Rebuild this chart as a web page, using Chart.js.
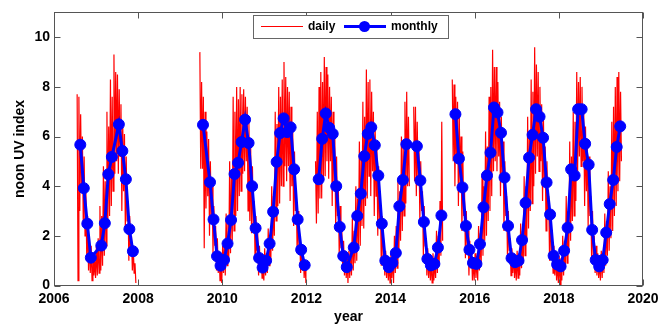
<!DOCTYPE html>
<html>
<head>
<meta charset="utf-8">
<script src="https://cdn.jsdelivr.net/npm/chart.js@4"></script>
<style>
  html, body { margin: 0; padding: 0; background: #fff; }
  #uv { display: block; }
</style>
</head>
<body>
<canvas id="uv" width="670" height="327"></canvas>
<script>
// years that have data (2008 has none)
const years = [2006, 2007, 2009, 2010, 2011, 2012, 2013, 2014, 2015, 2016, 2017, 2018, 2019];

// daily noon UV: 4 readings per month (Jan..Dec), null = no data
const d2006 = [null,null,null,null, null,null,null,null, null,null,null,null, null,null,null,null, null,null,null,null, null,null,null,null,
  null,null,7.7,0.2, 7.6,3.0,6.9,3.9, 6.0,2.4,5.2,2.0, 3.8,1.0,2.8,0.6, 1.9,0.5,1.6,0.2, 1.3,0.4,1.0,0.3];
const d2007 = [1.6,0.4,1.9,0.5, 3.2,0.6,2.8,0.8, 4.8,1.2,4.2,1.6, 7.0,2.4,6.4,2.8, 8.3,3.2,7.6,3.8, 9.3,4.5,8.6,5.0,
  8.5,4.5,7.9,5.2, 7.3,3.0,6.6,3.8, 6.1,2.2,5.2,2.6, 3.4,1.0,2.8,1.2, 2.0,0.6,1.6,0.5, 0.9,0.1,null,null];
const d2009 = [null,null,null,null, null,null,null,null, null,null,null,null, null,null,null,null, null,null,null,null, null,null,9.4,4.7,
  8.2,4.7,7.6,1.5, 7.0,3.1,6.2,3.6, 5.9,2.0,5.0,2.6, 4.0,1.3,3.2,1.6, 2.4,0.6,1.9,0.5, 1.3,0.2,1.1,0.1];
const d2010 = [1.6,0.5,1.8,0.4, 2.9,0.8,2.5,1.0, 5.0,1.3,4.4,1.8, 7.6,2.2,7.0,2.8, 8.0,3.0,7.5,3.6, 8.0,3.8,7.7,4.5,
  7.9,4.6,7.6,5.0, 7.2,3.0,6.6,2.6, 5.6,2.1,4.8,2.5, 3.4,1.0,2.8,1.4, 2.1,0.4,1.6,0.6, 1.2,0.3,1.0,0.2];
const d2011 = [1.5,0.4,1.3,0.5, 2.3,0.8,2.0,1.0, 4.0,1.4,3.6,2.0, 7.0,2.6,6.5,3.2, 8.0,3.3,7.6,4.0, 8.3,4.0,9.0,4.8,
  8.4,4.2,8.0,4.8, 7.8,3.4,7.2,4.0, 6.2,2.4,5.4,3.0, 3.8,1.3,3.0,1.6, 2.0,0.5,1.6,0.6, 1.4,0.3,1.0,0.1];
const d2012 = [null,null,null,null, null,null,null,null, null,null,5.0,2.5, 7.0,2.9,8.0,3.5, 8.6,3.5,8.2,4.2, 9.2,4.4,8.8,5.0,
  8.5,4.3,8.0,5.0, 7.6,3.2,7.0,4.0, 6.0,2.2,5.2,2.8, 4.0,1.2,3.2,1.5, 2.2,0.6,1.8,0.4, 1.4,0.3,1.1,0.1];
const d2013 = [1.4,0.3,1.6,0.4, 2.7,0.6,2.2,0.9, 4.0,1.0,3.5,1.6, 5.8,1.6,5.2,2.4, 7.4,2.3,6.8,3.2, 8.7,3.5,8.2,4.4,
  8.3,3.6,7.8,4.6, 7.0,2.8,6.4,3.6, 5.6,2.0,4.8,2.6, 3.4,0.8,2.8,1.2, 1.8,0.4,1.4,0.3, 1.2,0.2,1.0,0.1];
const d2014 = [1.3,0.3,1.2,0.1, 2.0,0.5,2.4,0.7, 4.2,1.2,3.8,1.8, 6.0,2.2,5.6,2.8, 7.4,3.3,7.8,4.0, 6.8,4.0,null,null,
  null,null,7.2,4.2, 7.2,3.6,6.6,4.2, 5.6,2.6,5.0,3.0, 3.8,1.2,3.2,1.6, 1.9,0.4,1.5,0.3, 1.2,0.2,1.0,0.1];
const d2015 = [1.3,0.2,1.1,0.3, 2.2,0.5,2.0,0.8, 3.4,1.2,6.6,1.8, null,null,null,null, null,null,null,null, null,null,8.3,5.0,
  8.1,4.0,7.6,5.0, 7.4,3.2,6.8,4.0, 6.0,2.2,5.4,2.8, 3.8,1.1,3.0,1.6, 2.2,0.4,1.8,0.7, 1.4,0.2,1.1,0.2];
const d2016 = [1.3,0.3,1.2,0.2, 2.4,0.6,2.1,0.9, 4.5,1.2,4.0,1.8, 6.2,2.0,5.6,2.6, 7.6,3.0,8.0,3.6, 9.5,4.6,8.8,5.0,
  8.8,4.6,8.2,5.2, 7.4,3.6,6.8,4.2, 5.8,2.2,5.0,2.8, 3.6,1.0,3.0,1.4, 1.9,0.4,1.5,0.5, 1.3,0.3,1.1,0.2];
const d2017 = [1.4,0.3,1.3,0.4, 2.5,0.7,2.2,0.9, 4.4,1.2,4.0,1.8, 6.8,2.3,6.2,3.0, 8.3,3.3,7.8,4.0, 9.6,4.5,8.9,5.2,
  8.6,4.6,8.0,5.0, 7.3,3.4,6.8,4.0, 5.6,2.2,5.0,2.8, 3.6,1.0,3.0,1.4, 2.0,0.5,1.6,0.4, 1.3,0.2,1.0,0.1];
const d2018 = [1.2,0.0,1.1,0.2, 2.0,0.4,1.8,0.7, 3.6,0.9,3.0,1.4, 5.8,1.8,5.2,2.6, 7.0,2.8,6.6,3.4, 8.6,4.6,8.2,5.2,
  8.4,4.8,8.0,5.0, 7.0,3.2,6.4,3.8, 5.8,2.4,5.2,2.8, 3.6,1.0,3.0,1.2, 2.0,0.5,1.6,0.4, 1.3,0.3,1.0,0.2];
const d2019 = [1.4,0.3,1.3,0.5, 2.9,0.8,2.6,1.2, 4.6,1.4,4.0,1.9, 6.6,2.2,7.2,2.8, 8.0,3.2,8.4,3.8, 8.6,4.2,7.8,5.0,
  null,null,null,null, null,null,null,null, null,null,null,null, null,null,null,null, null,null,null,null, null,null,null,null];
const dailyUV = [d2006, d2007, d2009, d2010, d2011, d2012, d2013, d2014, d2015, d2016, d2017, d2018, d2019];

// monthly means, Jan..Dec, null = month missing
const m2006 = [null, null, null, null, null, null, null, 5.67, 3.92, 2.49, 1.12, null];
const m2007 = [null, 1.61, 2.51, 4.48, 5.18, null, 6.49, 5.42, 4.28, 2.27, 1.38, null];
const m2009 = [null, null, null, null, null, null, 6.47, null, 4.16, 2.66, 1.18, 0.80];
const m2010 = [1.03, 1.69, 2.64, 4.49, 4.94, 5.78, 6.68, 5.74, 4.00, 2.31, 1.11, 0.72];
const m2011 = [1.00, 1.69, 2.97, 4.98, 6.14, 6.73, 6.18, 6.37, 4.68, 2.66, 1.44, 0.82];
const m2012 = [null, null, null, 4.28, 5.91, 6.93, 6.35, 6.11, 4.00, 2.36, 1.19, 0.74];
const m2013 = [null, 1.53, 2.80, 3.70, 5.21, 6.11, 6.37, 5.65, 4.43, 2.49, 1.00, 0.74];
const m2014 = [0.91, 1.31, 3.19, 4.25, 5.69, null, null, 5.61, 4.23, 2.56, 1.07, 0.81];
const m2015 = [0.87, 1.53, 2.82, null, null, null, 6.90, 5.11, 3.95, 2.40, 1.44, 0.91];
const m2016 = [0.87, 1.67, 3.15, 4.43, 5.35, 7.17, 6.97, 6.15, 4.35, 2.40, 1.10, 0.94];
const m2017 = [1.00, 1.83, 3.33, 5.15, 6.07, 7.10, 6.80, 5.95, 4.15, 2.86, 1.20, 0.85];
const m2018 = [0.77, 1.40, 2.33, 4.68, 4.43, 7.10, 7.10, 5.71, 4.87, 2.24, 1.03, 0.77];
const m2019 = [1.03, 2.13, 3.28, 4.25, 5.58, 6.41, null, null, null, null, null, null];
const monthlyUV = [m2006, m2007, m2009, m2010, m2011, m2012, m2013, m2014, m2015, m2016, m2017, m2018, m2019];

const xTicks = [2006, 2008, 2010, 2012, 2014, 2016, 2018, 2020];
const yTicks = [0, 2, 4, 6, 8, 10];

const FONT = '"Liberation Sans", Arial, Helvetica, sans-serif';

// spread the 4 readings over the month
const dayFrac = [0.1, 0.35, 0.6, 0.85];
const daily = [];
years.forEach((yr, k) => {
  dailyUV[k].forEach((v, i) => {
    daily.push({ x: yr + (Math.floor(i / 4) + dayFrac[i % 4]) / 12, y: v });
  });
});

const monthly = [];
years.forEach((yr, k) => {
  monthlyUV[k].forEach((v, m) => {
    if (v !== null) monthly.push({ x: yr + (m + 0.5) / 12, y: v });
  });
});

// matlab style box with ticks pointing inwards
const framePlugin = {
  id: "frame",
  afterDatasetsDraw(chart) {
    const { ctx, chartArea: a, scales: { x, y } } = chart;
    const L = Math.round(a.left) + 0.5, R = Math.round(a.right) - 0.5;
    const T = Math.round(a.top) + 0.5, B = Math.round(a.bottom) - 0.5;
    ctx.save();
    ctx.strokeStyle = "#555";
    ctx.lineWidth = 1;
    ctx.strokeRect(L, T, R - L, B - T);
    ctx.beginPath();
    xTicks.forEach((v) => {
      const px = Math.round(x.getPixelForValue(v)) + 0.5;
      ctx.moveTo(px, B); ctx.lineTo(px, B - 6);
      ctx.moveTo(px, T); ctx.lineTo(px, T + 6);
    });
    yTicks.forEach((v) => {
      const py = Math.round(y.getPixelForValue(v)) + 0.5;
      ctx.moveTo(L, py); ctx.lineTo(L + 6, py);
      ctx.moveTo(R, py); ctx.lineTo(R - 6, py);
    });
    ctx.stroke();
    ctx.restore();
  },
};

// legend box inside the plot, top centre
const legendPlugin = {
  id: "boxLegend",
  afterDraw(chart) {
    const { ctx } = chart;
    ctx.save();
    ctx.fillStyle = "#fff";
    ctx.fillRect(253, 15, 195, 23);
    ctx.strokeStyle = "#666";
    ctx.lineWidth = 1;
    ctx.strokeRect(253.5, 15.5, 195, 23);

    ctx.strokeStyle = "#ff0000";
    ctx.beginPath(); ctx.moveTo(261, 26.5); ctx.lineTo(303, 26.5); ctx.stroke();

    ctx.strokeStyle = "#0000ff";
    ctx.lineWidth = 3;
    ctx.beginPath(); ctx.moveTo(344, 26.5); ctx.lineTo(386, 26.5); ctx.stroke();
    ctx.fillStyle = "#0000ff";
    ctx.beginPath(); ctx.arc(364.5, 26.5, 5.5, 0, Math.PI * 2); ctx.fill();

    ctx.fillStyle = "#000";
    ctx.font = "bold 12px " + FONT;
    ctx.textBaseline = "middle";
    ctx.fillText("daily", 308, 27);
    ctx.fillText("monthly", 391, 27);
    ctx.restore();
  },
};

new Chart(document.getElementById("uv"), {
  type: "line",
  data: {
    datasets: [
      {
        label: "monthly",
        data: monthly,
        order: 1,
        borderColor: "#0000ff",
        backgroundColor: "#0000ff",
        borderWidth: 3,
        pointRadius: 5.5,
        pointBorderWidth: 1,
        pointBackgroundColor: "#0000ff",
        pointBorderColor: "#0000ff",
        spanGaps: 0.3, // join over up to two missing months, not longer
        tension: 0,
      },
      {
        label: "daily",
        data: daily,
        order: 2,
        borderColor: "#ff0000",
        borderWidth: 1.2,
        pointRadius: 0,
        spanGaps: false,
        tension: 0,
      },
    ],
  },
  options: {
    responsive: false,
    animation: false,
    devicePixelRatio: 1,
    layout: { padding: { left: 0, right: 27, top: 10, bottom: 0 } },
    plugins: {
      legend: { display: false },
      tooltip: { enabled: false },
    },
    scales: {
      x: {
        type: "linear",
        min: 2006,
        max: 2020,
        afterFit: (s) => { s.height = 41.5; },
        grid: { display: false, drawTicks: false },
        border: { display: false },
        ticks: {
          stepSize: 2,
          padding: 5,
          color: "#000",
          font: { family: FONT, size: 14, weight: "bold" },
          callback: (v) => String(v),
        },
        title: {
          display: true,
          text: "year",
          color: "#000",
          padding: { top: 0, bottom: 1 },
          font: { family: FONT, size: 14, weight: "bold" },
        },
      },
      y: {
        min: 0,
        max: 11,
        afterFit: (s) => { s.width = 54; },
        grid: { display: false, drawTicks: false },
        border: { display: false },
        ticks: {
          stepSize: 2,
          includeBounds: false,
          padding: 4,
          color: "#000",
          font: { family: FONT, size: 14, weight: "bold" },
        },
        title: {
          display: true,
          text: "noon UV index",
          color: "#000",
          padding: { top: 12, bottom: 0 },
          font: { family: FONT, size: 14, weight: "bold" },
        },
      },
    },
  },
  plugins: [framePlugin, legendPlugin],
});
</script>
</body>
</html>
